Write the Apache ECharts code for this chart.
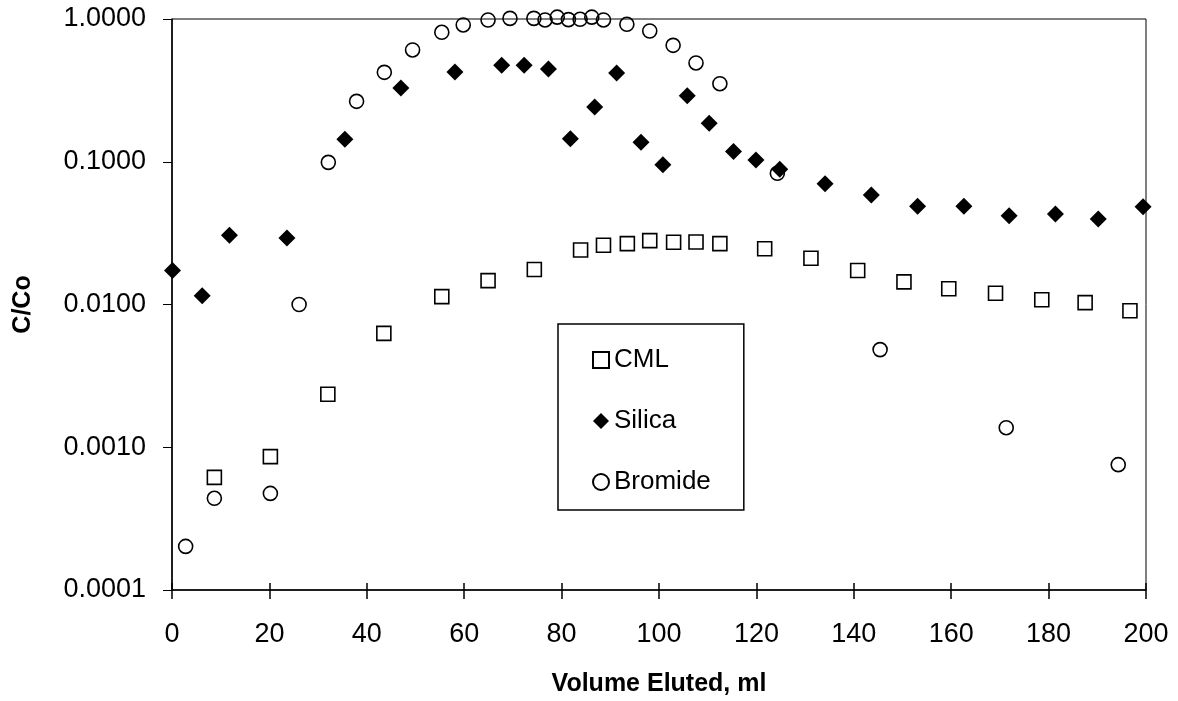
<!DOCTYPE html>
<html>
<head>
<meta charset="utf-8">
<script src="https://cdn.jsdelivr.net/npm/echarts@6/dist/echarts.min.js"></script>
<style>
html,body{margin:0;padding:0;background:#fff;}
#c{width:1178px;height:701px;}
</style>
</head>
<body>
<div id="c"></div>
<script>
// Data: [volume eluted (ml), C/Co]
var cmlData = [
  [8.7, 0.000615], [20.2, 0.00086], [32.0, 0.00235], [43.5, 0.00628],
  [55.4, 0.01135], [64.9, 0.0147], [74.4, 0.0176], [83.9, 0.0241],
  [88.6, 0.0260], [93.5, 0.0267], [98.1, 0.0280], [103.0, 0.0273],
  [107.6, 0.0274], [112.5, 0.0267], [121.7, 0.0246], [131.2, 0.0211],
  [140.8, 0.0173], [150.3, 0.0144], [159.5, 0.0129], [169.1, 0.0120],
  [178.6, 0.0108], [187.5, 0.0103], [196.7, 0.00905]
];
var silicaData = [
  [0.1, 0.0173], [6.2, 0.0115], [11.8, 0.0305], [23.6, 0.0292],
  [35.5, 0.1436], [47.0, 0.329], [58.1, 0.425], [67.7, 0.474],
  [72.3, 0.474], [77.3, 0.446], [81.8, 0.145], [86.8, 0.242],
  [91.3, 0.418], [96.3, 0.137], [100.8, 0.0954], [105.8, 0.290],
  [110.3, 0.186], [115.3, 0.118], [119.9, 0.103], [124.8, 0.0885],
  [134.1, 0.0702], [143.6, 0.0585], [153.1, 0.0487], [162.6, 0.0487],
  [171.9, 0.0419], [181.4, 0.0431], [190.2, 0.0397], [199.4, 0.0484]
];
var bromideData = [
  [2.8, 0.000202], [8.7, 0.000439], [20.2, 0.000475], [26.1, 0.0100],
  [32.1, 0.099], [37.9, 0.265], [43.6, 0.423], [49.4, 0.607],
  [55.4, 0.807], [59.8, 0.908], [64.9, 0.984], [69.4, 1.01],
  [74.3, 1.01], [76.6, 0.985], [79.1, 1.03], [81.4, 0.99],
  [83.8, 0.995], [86.2, 1.03], [88.6, 0.985], [93.4, 0.918],
  [98.1, 0.824], [102.9, 0.654], [107.6, 0.492], [112.5, 0.352],
  [124.3, 0.083], [145.4, 0.00483], [171.3, 0.00137], [194.3, 0.000755]
];
var seriesNames = ['CML', 'Silica', 'Bromide'];
var xTitle = 'Volume Eluted, ml';
var yTitle = 'C/Co';

var FONT = '"Liberation Sans", Arial, sans-serif';
var chart = echarts.init(document.getElementById('c'), null, {renderer: 'canvas'});
chart.setOption({
  animation: false,
  backgroundColor: '#fff',
  grid: {left: 172, right: 32, top: 19, bottom: 111, show: true,
         containLabel: false, outerBoundsMode: 'none',
         borderColor: '#000', borderWidth: 1, backgroundColor: 'transparent'},
  legend: {
    orient: 'vertical', left: 558, top: 324,
    padding: [23, 33, 15, 34],
    itemGap: 35, itemWidth: 16, itemHeight: 16,
    borderColor: '#000', borderWidth: 1.5, backgroundColor: '#fff',
    textStyle: {fontFamily: FONT, fontSize: 26, color: '#000'},
    data: seriesNames
  },
  xAxis: [{
    type: 'value', min: 0, max: 200, interval: 20,
    name: xTitle, nameLocation: 'middle', nameGap: 82,
    nameTextStyle: {fontFamily: FONT, fontSize: 25, fontWeight: 'bold', color: '#000'},
    axisLine: {show: true, lineStyle: {color: '#000', width: 1.5}},
    axisTick: {show: true, inside: false, length: 9, lineStyle: {color: '#000', width: 1.5}},
    axisLabel: {fontFamily: FONT, fontSize: 27, color: '#000', margin: 31},
    splitLine: {show: false}
  }, {
    type: 'value', min: 0, max: 200, interval: 20, position: 'bottom',
    axisLine: {show: false},
    axisTick: {show: true, inside: true, length: 7, lineStyle: {color: '#000', width: 1.5}},
    axisLabel: {show: false},
    splitLine: {show: false}
  }],
  yAxis: {
    type: 'log', logBase: 10, min: 0.0001, max: 1,
    name: yTitle, nameLocation: 'middle', nameGap: 136, nameRotate: 90,
    nameTextStyle: {fontFamily: FONT, fontSize: 25, fontWeight: 'bold', color: '#000'},
    axisLine: {show: true, lineStyle: {color: '#000', width: 1.5}},
    axisTick: {show: true, inside: false, length: 9, lineStyle: {color: '#000', width: 1}},
    axisLabel: {fontFamily: FONT, fontSize: 27, color: '#000', margin: 26,
      formatter: function (v) { return Number(v).toFixed(4); }},
    splitLine: {show: false},
    minorTick: {show: false}
  },
  series: [{
    name: seriesNames[0], type: 'scatter', data: cmlData, clip: false,
    symbol: 'rect', symbolSize: 14,
    itemStyle: {color: 'transparent', borderColor: '#000', borderWidth: 1.6, opacity: 1}
  }, {
    name: seriesNames[2], type: 'scatter', data: bromideData, clip: false,
    symbol: 'circle', symbolSize: 14,
    itemStyle: {color: 'transparent', borderColor: '#000', borderWidth: 1.6, opacity: 1}
  }, {
    name: seriesNames[1], type: 'scatter', data: silicaData, clip: false,
    symbol: 'diamond', symbolSize: 17,
    itemStyle: {color: '#000', borderWidth: 0, opacity: 1}
  }]
});
</script>
</body>
</html>
